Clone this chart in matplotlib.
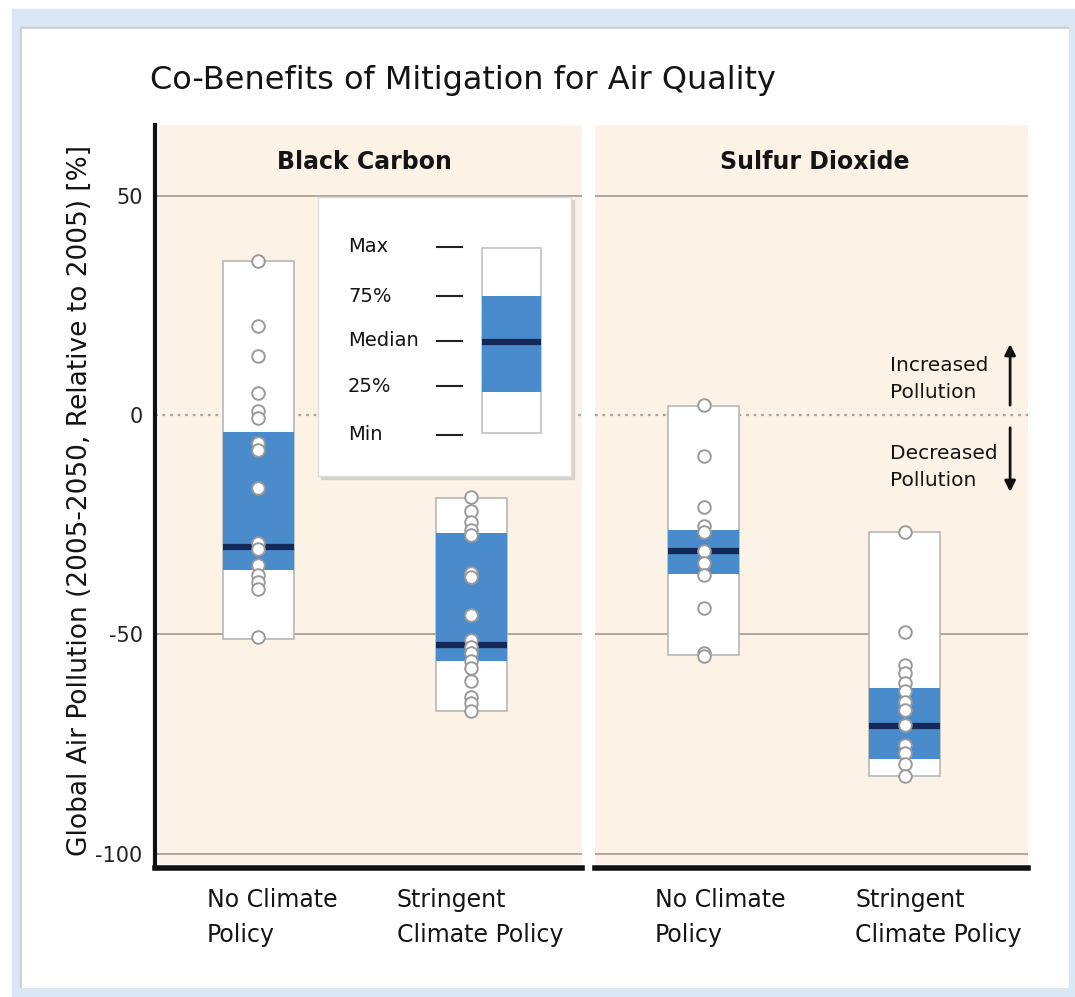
import matplotlib
matplotlib.use("Agg")
import matplotlib.pyplot as plt
from matplotlib.patches import Rectangle

plt.rcParams['font.family'] = ['DejaVu Sans']

# data
panels = ['Black Carbon', 'Sulfur Dioxide']
scenarios = ['No Climate\nPolicy', 'Stringent\nClimate Policy']

bc_min = [-51, -67.6]
bc_q25 = [-35.3, -56.2]
bc_med = [-30, -52.5]
bc_q75 = [-4, -27]
bc_max = [35, -19]

so2_min = [-54.7, -82.4]
so2_q25 = [-36.2, -78.4]
so2_med = [-31.1, -71]
so2_q75 = [-26.2, -62.3]
so2_max = [2, -26.8]

bc_pts_none = [35, 20.3, 13.5, 4.9, 1.0, -0.8, -6.5, -8, -16.7, -29.2, -30.5,
               -34.2, -36.4, -38, -39.7, -50.7]
bc_pts_strict = [-18.7, -22, -24.3, -26.2, -27.3, -36.1, -37, -45.6, -51.3,
                 -52.8, -54.3, -56.2, -57.6, -60.7, -64.2, -65.6, -67.6]
so2_pts_none = [2.3, -9.3, -21, -25.4, -26.6, -31, -33.8, -36.4, -44, -54.3, -55]
so2_pts_strict = [-26.6, -49.6, -57, -58.8, -61.1, -63, -65.5, -67.2, -70.8,
                  -75.2, -77, -79.7, -82.4]

yticks = [50, 0, -50, -100]
legend_labels = ['Max', '75%', 'Median', '25%', 'Min']

bg = '#fcf3e6'
blue = '#4a8bcc'
navy = '#14285a'
grid_c = '#9c928a'
txt = '#141414'

fig = plt.figure(figsize=(10.75, 9.97), dpi=100)
fig.patch.set_facecolor('white')

# frame around the chart
fig.patches.append(Rectangle((12/1075, 0), 1 - 12/1075, 1 - 9/997,
                             transform=fig.transFigure, color='#dae8f5', zorder=-10))
fig.patches.append(Rectangle((20/1075, 10/997), 1048/1075, 960/997,
                             transform=fig.transFigure, color='#c9ced4', zorder=-10))
fig.patches.append(Rectangle((22/1075, 10/997), 1046/1075, 958/997,
                             transform=fig.transFigure, color='white', zorder=-10))

ax1 = fig.add_axes([155/1075, 1 - 868/997, 427/1075, 743/997])
ax2 = fig.add_axes([595/1075, 1 - 868/997, 433/1075, 743/997])

ylo, yhi = -103.3, 66.1
data = [
    (ax1, bc_min, bc_q25, bc_med, bc_q75, bc_max, [bc_pts_none, bc_pts_strict],
     (0.516, 2.521), 0.333),
    (ax2, so2_min, so2_q25, so2_med, so2_q75, so2_max, [so2_pts_none, so2_pts_strict],
     (0.458, 2.612), 0.353),
]

for i, (ax, mn, q1, md, q3, mx, pts, xl, w) in enumerate(data):
    ax.set_facecolor('none')
    ax.set_xlim(*xl)
    ax.set_ylim(ylo, yhi)
    # panel background
    x0 = xl[0] + (0.02 if i == 0 else 0)
    ax.add_patch(Rectangle((x0, ylo + 1.2), xl[1] - x0, yhi - ylo, color=bg, zorder=0))
    for y in [50, -50, -100]:
        ax.axhline(y, color=grid_c, lw=1.1, zorder=1)
    ax.axhline(0, color='#a8a29c', lw=1.6, ls=(0, (1.2, 2.2)), zorder=1)

    pos = [1, 2]
    ax.bar(pos, [b - a for a, b in zip(mn, mx)], bottom=mn, width=w,
           color='white', edgecolor='#b8b8b8', lw=1.2, zorder=2)
    ax.bar(pos, [b - a for a, b in zip(q1, q3)], bottom=q1, width=w,
           color=blue, lw=0, zorder=3)
    ax.hlines(md, [p - w/2 for p in pos], [p + w/2 for p in pos],
              color=navy, lw=4.5, zorder=4)
    for p, vals in zip(pos, pts):
        ax.scatter([p]*len(vals), vals, s=82, facecolor='white',
                   edgecolor='#9a9a9a', lw=1.4, zorder=5)

    ax.set_xticks([])
    for s in ['top', 'right']:
        ax.spines[s].set_visible(False)
    ax.spines['bottom'].set_linewidth(4)
    ax.spines['bottom'].set_color('#111111')
    ax.text(1.5 if i == 0 else 1.553, 57.7, panels[i], ha='center', va='center',
            fontsize=17, fontweight='bold', color=txt)
    xs = [0.760, 1.652] if i == 0 else [0.757, 1.752]
    for xt, lab in zip(xs, scenarios):
        ax.text(xt, -114.6, lab, ha='left', va='center', fontsize=17,
                linespacing=1.55, color=txt, clip_on=False)

ax1.spines['left'].set_linewidth(3)
ax1.spines['left'].set_color('#111111')
ax1.set_yticks(yticks)
ax1.set_yticklabels([str(t) for t in yticks], fontsize=15, color='#222222')
ax1.tick_params(axis='y', length=0, pad=9)
ax2.spines['left'].set_visible(False)
ax2.set_yticks([])

# pollution direction arrows
ax2.annotate('', xy=(2.523, 16.8), xytext=(2.523, 1.6),
             arrowprops=dict(arrowstyle='-|>', color='#111111', lw=2, mutation_scale=16),
             zorder=6)
ax2.annotate('', xy=(2.523, -18.2), xytext=(2.523, -2.3),
             arrowprops=dict(arrowstyle='-|>', color='#111111', lw=2, mutation_scale=16),
             zorder=6)
ax2.text(1.926, 8.2, 'Increased\nPollution', ha='left', va='center', fontsize=14.5,
         linespacing=1.55, color=txt, zorder=6)
ax2.text(1.926, -11.9, 'Decreased\nPollution', ha='left', va='center', fontsize=14.5,
         linespacing=1.55, color=txt, zorder=6)

# legend key
lx, ly, lw_, lh = 318/1075, 1 - 476/997, 253/1075, 279/997
fig.patches.append(Rectangle((lx + 3/1075, ly - 3/997), lw_, lh, transform=fig.transFigure,
                             color='#d6d3cf', zorder=5))
lg = fig.add_axes([lx, ly, lw_, lh], zorder=6)
lg.set_facecolor('white')
lg.set_xlim(0, 253)
lg.set_ylim(279, 0)
lg.set_xticks([])
lg.set_yticks([])
for s in lg.spines.values():
    s.set_color('#dddddd')
    s.set_linewidth(1)
label_y = [50, 99, 144, 189, 238]
for yy, lab in zip(label_y, legend_labels):
    lg.text(30, yy, lab, ha='left', va='center', fontsize=14, color=txt)
    lg.plot([119, 144], [yy, yy], color='#222222', lw=1.5)
lg.add_patch(Rectangle((164, 51), 59, 185, facecolor='white', edgecolor='#c0c0c0', lw=1.2))
lg.add_patch(Rectangle((164, 99), 59, 96, facecolor=blue, lw=0))
lg.plot([164, 223], [145, 145], color=navy, lw=4.5, solid_capstyle='butt')

fig.text(150/1075, 1 - 80/997, 'Co-Benefits of Mitigation for Air Quality',
         ha='left', va='center', fontsize=23, color=txt)
fig.text(80/1075, 1 - 500/997, 'Global Air Pollution (2005-2050, Relative to 2005) [%]',
         rotation=90, ha='center', va='center', fontsize=19, color=txt)

fig.savefig('out.png', dpi=100, facecolor=fig.get_facecolor())
